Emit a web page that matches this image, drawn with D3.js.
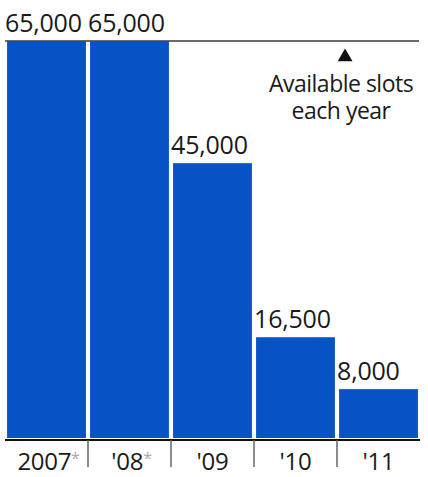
<!DOCTYPE html>
<html>
<head>
<meta charset="utf-8">
<script src="https://cdn.jsdelivr.net/npm/d3@7"></script>
<style>
  body { margin: 0; background: #fff; }
  text { font-family: "Open Sans", "DejaVu Sans", sans-serif; fill: #1a1a1a; }
</style>
</head>
<body>
<svg id="chart" width="428" height="477"></svg>
<script>
const years = ["2007", "'08", "'09", "'10", "'11"];
const footnoted = [true, true, false, false, false];
const slots = [65000, 65000, 45000, 16500, 8000];
const valueLabels = ["65,000", "65,000", "45,000", "16,500", "8,000"];
const annotation = ["Available slots", "each year"];

const svg = d3.select("#chart");
const width = 428;
const height = 477;
const margin = { top: 41, right: 8, bottom: 39, left: 5 };

const x = d3.scaleBand()
  .domain(years)
  .range([margin.left, width - margin.right])
  .paddingInner(0.05)
  .paddingOuter(0.025);

const y = d3.scaleLinear()
  .domain([0, d3.max(slots)])
  .range([height - margin.bottom, margin.top]);

const data = years.map((yr, i) => ({ yr, v: slots[i], label: valueLabels[i], star: footnoted[i] }));

// cap line across the top
svg.append("line")
  .attr("x1", margin.left)
  .attr("x2", width - margin.right - 1)
  .attr("y1", y(d3.max(slots)))
  .attr("y2", y(d3.max(slots)))
  .attr("stroke", "#3a3a3a")
  .attr("stroke-width", 1.6);

svg.append("g")
  .selectAll("rect")
  .data(data)
  .join("rect")
  .attr("x", d => x(d.yr))
  .attr("width", x.bandwidth())
  .attr("y", d => y(d.v))
  .attr("height", d => y(0) - y(d.v))
  .attr("fill", "#0752c4");

svg.append("g")
  .selectAll("text")
  .data(data)
  .join("text")
  .attr("x", d => x(d.yr) - 2)
  .attr("y", d => y(d.v) - 9)
  .attr("font-size", 25)
  .attr("font-weight", 500)
  .attr("letter-spacing", -0.2)
  .text(d => d.label);

// baseline + separators
const base = y(0) + 2;
svg.append("line")
  .attr("x1", margin.left)
  .attr("x2", width - margin.right)
  .attr("y1", base)
  .attr("y2", base)
  .attr("stroke", "#111")
  .attr("stroke-width", 2);

svg.append("g")
  .selectAll("line")
  .data(years.slice(1))
  .join("line")
  .attr("x1", d => x(d) - x.step() * x.paddingInner() / 2)
  .attr("x2", d => x(d) - x.step() * x.paddingInner() / 2)
  .attr("y1", base)
  .attr("y2", base + 27)
  .attr("stroke", "#666")
  .attr("stroke-width", 1.5);

const xl = svg.append("g")
  .selectAll("text")
  .data(data)
  .join("text")
  .attr("x", d => x(d.yr) + x.bandwidth() / 2 + (d.star ? 2 : 0))
  .attr("y", height - 7)
  .attr("text-anchor", "middle")
  .attr("font-size", 24)
  .attr("font-weight", 500)
  .attr("letter-spacing", -0.3);
xl.append("tspan").text(d => d.yr);
xl.filter(d => d.star).append("tspan")
  .attr("font-size", 16)
  .attr("dy", -6)
  .attr("fill", "#aaa")
  .text("*");

// annotation
const ax = x("'11") + 6;
svg.append("path")
  .attr("d", d3.symbol(d3.symbolTriangle, 95)())
  .attr("transform", `translate(${ax},57)`)
  .attr("fill", "#111");

svg.append("g")
  .selectAll("text")
  .data(annotation)
  .join("text")
  .attr("x", ax - 4)
  .attr("y", (d, i) => 92 + i * 27)
  .attr("text-anchor", "middle")
  .attr("font-size", 23)
  .attr("font-weight", 500)
  .attr("letter-spacing", -0.5)
  .text(d => d);
</script>
</body>
</html>
